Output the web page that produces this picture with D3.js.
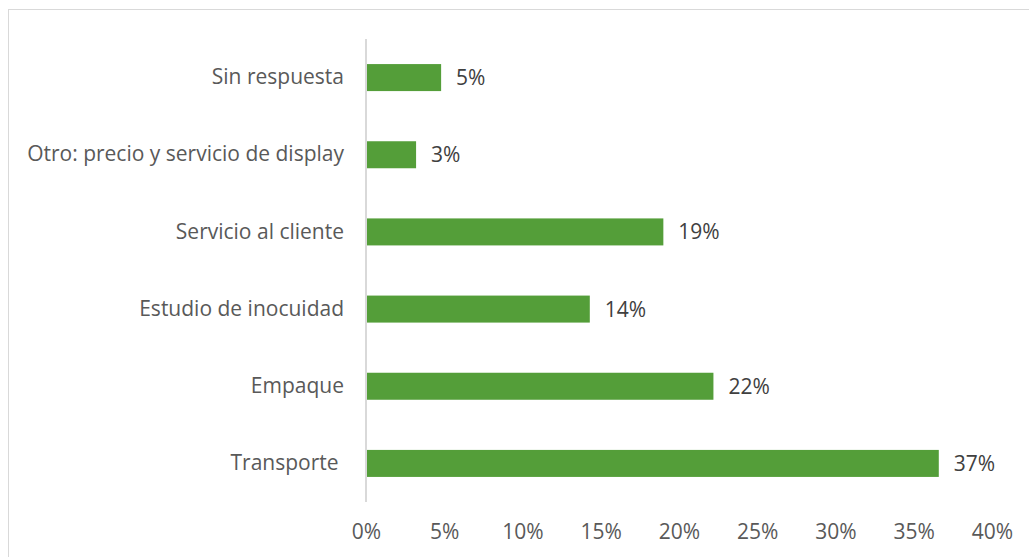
<!DOCTYPE html>
<html>
<head>
<meta charset="utf-8">
<script src="https://cdn.jsdelivr.net/npm/d3@7"></script>
<style>
  html, body { margin: 0; padding: 0; background: #fff; }
  svg { display: block; }
  text { font-family: "Open Sans", sans-serif; }
</style>
</head>
<body>
<svg id="chart" width="1029" height="557"></svg>
<script>
// Survey answers, top to bottom
const categories = [
  "Sin respuesta",
  "Otro: precio y servicio de display",
  "Servicio al cliente",
  "Estudio de inocuidad",
  "Empaque",
  "Transporte "
];
const shares = [0.048, 0.032, 0.190, 0.143, 0.222, 0.366];
const tickValues = [0, 0.05, 0.10, 0.15, 0.20, 0.25, 0.30, 0.35, 0.40];

const svg = d3.select("#chart");
const W = 1029, H = 557;
const FONT = "'Open Sans', sans-serif";
const FS = 21;

// frame around the chart area
svg.append("rect")
  .attr("x", 8.5).attr("y", 9.5)
  .attr("width", W + 20).attr("height", H + 20)
  .attr("fill", "none").attr("stroke", "#d9d9d9").attr("stroke-width", 1);

const x = d3.scaleLinear().domain([0, 0.40]).range([366, 992]);
const y = d3.scaleBand().domain(categories).range([39, 502])
  .paddingInner(0.65).paddingOuter(0.325);

const pct = d3.format(".0%");
const rows = categories.map((c, i) => ({ c, v: shares[i] }));

// bars
svg.append("g").selectAll("rect")
  .data(rows)
  .join("rect")
  .attr("x", x(0))
  .attr("y", d => y(d.c))
  .attr("width", d => x(d.v) - x(0))
  .attr("height", y.bandwidth())
  .attr("fill", "#549e39");

// value labels
svg.append("g").selectAll("text")
  .data(rows)
  .join("text")
  .attr("x", d => x(d.v) + 15)
  .attr("y", d => y(d.c) + y.bandwidth() / 2)
  .attr("dy", "0.36em")
  .attr("font-size", FS)
  .attr("fill", "#404040")
  .text(d => pct(d.v));

// category axis
const yAxis = svg.append("g")
  .attr("transform", `translate(${x(0)},0)`)
  .call(d3.axisLeft(y).tickSize(0).tickPadding(22));
yAxis.select(".domain").attr("stroke", "#d9d9d9").attr("stroke-width", 2)
  .attr("d", "M0,39V502");
yAxis.selectAll("text")
  .attr("font-size", FS)
  .attr("fill", "#595959")
  .attr("font-family", FONT)
  .style("white-space", "pre");

// value axis (labels only)
const xAxis = svg.append("g")
  .attr("transform", "translate(0,519)")
  .call(d3.axisBottom(x).tickValues(tickValues).tickFormat(pct).tickSize(0).tickPadding(5));
xAxis.select(".domain").remove();
xAxis.selectAll("text")
  .attr("font-size", FS)
  .attr("fill", "#595959")
  .attr("font-family", FONT);
</script>
</body>
</html>
